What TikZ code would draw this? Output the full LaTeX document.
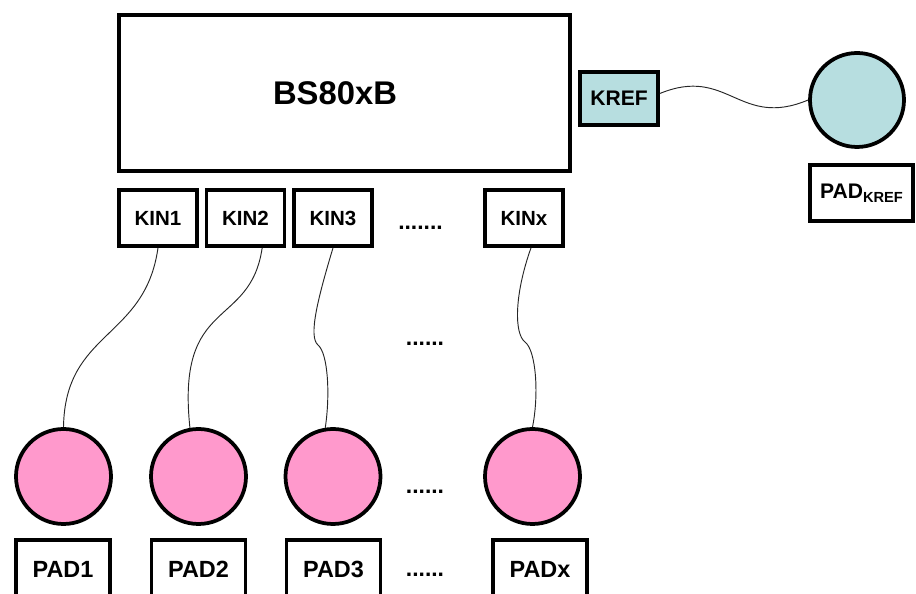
\documentclass[tikz,border=0pt]{standalone}
\usepackage{fontspec}
\setmainfont{Liberation Sans}
\usepackage{xcolor}
\usepackage{tikz}
\usetikzlibrary{positioning, calc}

\definecolor{padpink}{RGB}{255,153,204}
\definecolor{refblue}{RGB}{183,222,224}

\begin{document}
\begin{tikzpicture}[
  wire/.style={draw=black!85, line width=0.8pt},
  chip_box/.style={draw, rectangle, line width=3.4pt, minimum width=13.53cm, minimum height=4.68cm, font=\fontsize{28}{32}\selectfont\bfseries},
  kin_box/.style={draw, rectangle, line width=3.2pt, minimum width=2.34cm, minimum height=1.68cm, font=\fontsize{17.5}{20}\selectfont\bfseries},
  pad_circle/.style={circle, draw, line width=3.2pt, fill=padpink, minimum size=2.85cm},
  pad_box/.style={draw, rectangle, line width=3.2pt, minimum width=2.82cm, minimum height=1.74cm, font=\fontsize{20}{23}\selectfont\bfseries},
  dot_text/.style={anchor=base, inner sep=0pt, font=\fontsize{19.5}{22}\selectfont\bfseries}
]
  \useasboundingbox (0,0) rectangle (27.48,17.82);

  % Chip with its sense inputs
  \node (chip) [chip_box] at (10.335, 15.03) {BS80xB\hspace*{0.57cm}};
  \node (kin1) [kin_box] at (4.74, 11.28) {KIN1};
  \node (kin2) [kin_box] at (7.365, 11.28) {KIN2};
  \node (kin3) [kin_box] at (9.99, 11.28) {KIN3};
  \node (kinx) [kin_box] at (15.72, 11.28) {KINx};
  \node (kin_dots) [dot_text] at (12.615, 10.92) {.......};

  % Reference input and its pad
  \node (kref) [kin_box, fill=refblue, minimum height=1.59cm, font=\fontsize{18}{21}\selectfont\bfseries] at (18.57, 14.865) {KREF};
  \node (kref_pad) [pad_circle, fill=refblue, minimum size=2.82cm] at (25.71, 14.82) {};
  \node (kref_label) [pad_box, minimum width=3.09cm, minimum height=1.68cm, font=\fontsize{18}{21}\selectfont\bfseries] at (25.845, 12.03) {PAD{\fontsize{12.5}{14}\selectfont\raisebox{-3pt}{KREF}}};

  % Touch pads
  \node (mid_dots) [dot_text] at (12.75, 7.44) {......};
  \node (pad1) [pad_circle] at (1.905, 3.525) {};
  \node (pad2) [pad_circle] at (5.955, 3.525) {};
  \node (pad3) [pad_circle] at (9.99, 3.525) {};
  \node (padx) [pad_circle] at (15.975, 3.525) {};
  \node (pad_dots) [dot_text] at (12.75, 3.0) {......};

  \node (pad1_label) [pad_box] at (1.89, 0.75) {PAD1};
  \node (pad2_label) [pad_box] at (5.955, 0.75) {PAD2};
  \node (pad3_label) [pad_box] at (10.005, 0.75) {PAD3};
  \node (padx_label) [pad_box] at (16.2, 0.75) {PADx};
  \node (label_dots) [dot_text] at (12.75, 0.51) {......};

  % Wires
  \draw[wire] (kin1.south) .. controls +(-0.39,-2.76) and +(0.045,2.91) .. (pad1.north);
  \draw[wire] ([xshift=0.5cm]kin2.south) .. controls +(-0.36,-2.46) and +(-0.42,3.96) .. (pad2.100);
  \draw[wire] (kin3.south) .. controls +(-0.45,-1.5) and +(-0.3,0.25) .. (9.54,7.47) .. controls +(0.3,-0.25) and +(0.15,1.0) .. (pad3.99);
  \draw[wire] ([xshift=0.21cm]kinx.south) .. controls +(-0.5,-1.4) and +(-0.33,0.25) .. (15.75,7.56) .. controls +(0.33,-0.25) and +(0.2,1.0) .. (padx.north);
  \draw[wire] ([yshift=0.15cm]kref.east) .. controls +(2.04,0.84) and +(-2.07,-0.87) .. (kref_pad.west);

\end{tikzpicture}
\end{document}
